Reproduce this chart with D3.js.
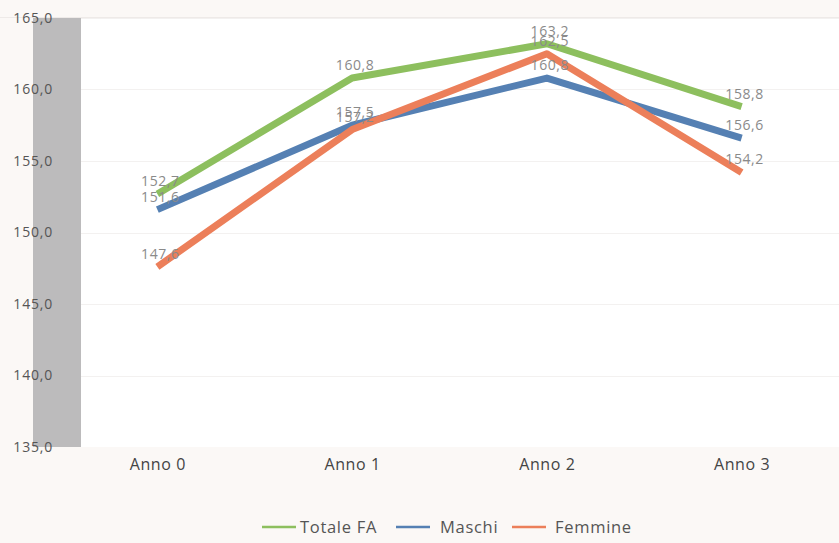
<!DOCTYPE html>
<html>
<head>
<meta charset="utf-8">
<script src="https://cdn.jsdelivr.net/npm/d3@7/dist/d3.min.js"></script>
<style>
  html, body { margin: 0; padding: 0; background: #fbf8f6; }
  svg { display: block; font-family: "Open Sans", Lato, sans-serif; }
</style>
</head>
<body>
<svg id="chart" width="839" height="543"></svg>
<script>
// Data
const categories = ["Anno 0", "Anno 1", "Anno 2", "Anno 3"];
const seriesNames = ["Totale FA", "Maschi", "Femmine"];
const totaleFA = [152.7, 160.8, 163.2, 158.8];
const maschi   = [151.6, 157.5, 160.8, 156.6];
const femmine  = [147.6, 157.2, 162.5, 154.2];
const seriesColors = ["#8dbf5e", "#5580b3", "#ec7f5a"];
const yTicks = [135, 140, 145, 150, 155, 160, 165];

const series = [totaleFA, maschi, femmine].map((vals, i) => ({
  name: seriesNames[i], color: seriesColors[i], values: vals
}));

const itLocale = d3.formatLocale({ decimal: ",", thousands: ".", grouping: [3], currency: ["", " €"] });
const fmt = itLocale.format(".1f");

const svg = d3.select("#chart");
const W = 839, H = 543;
const plot = { left: 60, right: 839, top: 18, bottom: 447 };

const x = d3.scalePoint().domain(categories)
  .range([plot.left, plot.right]).padding(0.5);
const y = d3.scaleLinear().domain([135, 165]).range([plot.bottom, plot.top]);

// Plot area background
svg.append("rect")
  .attr("x", plot.left).attr("y", plot.top)
  .attr("width", plot.right - plot.left).attr("height", plot.bottom - plot.top)
  .attr("fill", "#ffffff");

// Top edge line
svg.append("line")
  .attr("x1", 0).attr("x2", W).attr("y1", plot.top - 0.5).attr("y2", plot.top - 0.5)
  .attr("stroke", "#eeeae8").attr("stroke-width", 1);

// Gridlines
svg.append("g")
  .selectAll("line").data(yTicks.slice(1)).join("line")
  .attr("x1", plot.left).attr("x2", plot.right)
  .attr("y1", d => Math.round(y(d)) + 0.5).attr("y2", d => Math.round(y(d)) + 0.5)
  .attr("stroke", "#f3f1f0").attr("stroke-width", 1);

// Grey band along the value axis
svg.append("rect")
  .attr("x", 33).attr("y", plot.top)
  .attr("width", 48).attr("height", plot.bottom - plot.top)
  .attr("fill", "#bcbbbc");

// Y axis
const yAxis = d3.axisLeft(y).tickValues(yTicks).tickFormat(fmt).tickSize(0).tickPadding(0);
const gy = svg.append("g").attr("transform", `translate(53,0)`).call(yAxis);
gy.select(".domain").remove();
gy.selectAll("text").attr("fill", "#555").attr("font-size", 14)
  .attr("letter-spacing", 0.8).attr("font-family", "'Open Sans', sans-serif");

// X axis
const xAxis = d3.axisBottom(x).tickSize(0).tickPadding(0);
const gx = svg.append("g").attr("transform", `translate(0,${plot.bottom + 12})`).call(xAxis);
gx.select(".domain").remove();
gx.selectAll("text").attr("fill", "#444").attr("font-size", 16)
  .attr("letter-spacing", 0.6).attr("font-family", "'Open Sans', sans-serif");

// Lines
const line = d3.line()
  .x((d, i) => x(categories[i]))
  .y(d => y(d));

svg.append("g").selectAll("path").data(series).join("path")
  .attr("d", d => line(d.values))
  .attr("fill", "none")
  .attr("stroke", d => d.color)
  .attr("stroke-width", 7)
  .attr("stroke-linejoin", "round");

// Data labels
const labels = svg.append("g");
series.forEach(s => {
  labels.selectAll(null).data(s.values).join("text")
    .attr("x", (d, i) => x(categories[i]) + 3)
    .attr("y", d => y(d) - 8)
    .attr("text-anchor", "middle")
    .attr("fill", "#8a8a8a")
    .attr("font-size", 14)
    .attr("letter-spacing", 0.6)
    .text(d => fmt(d));
});

// Legend
const legendItems = [
  { x: 262, tx: 300 },
  { x: 396, tx: 440 },
  { x: 512, tx: 555 }
];
const lg = svg.append("g");
series.forEach((s, i) => {
  const it = legendItems[i];
  lg.append("line")
    .attr("x1", it.x).attr("x2", it.x + 34)
    .attr("y1", 527).attr("y2", 527)
    .attr("stroke", s.color).attr("stroke-width", 2.5);
  lg.append("text")
    .attr("x", it.tx).attr("y", 527).attr("dy", "0.35em")
    .attr("fill", "#555").attr("font-size", 16.5)
    .attr("letter-spacing", 0.7)
    .text(s.name);
});
</script>
</body>
</html>
